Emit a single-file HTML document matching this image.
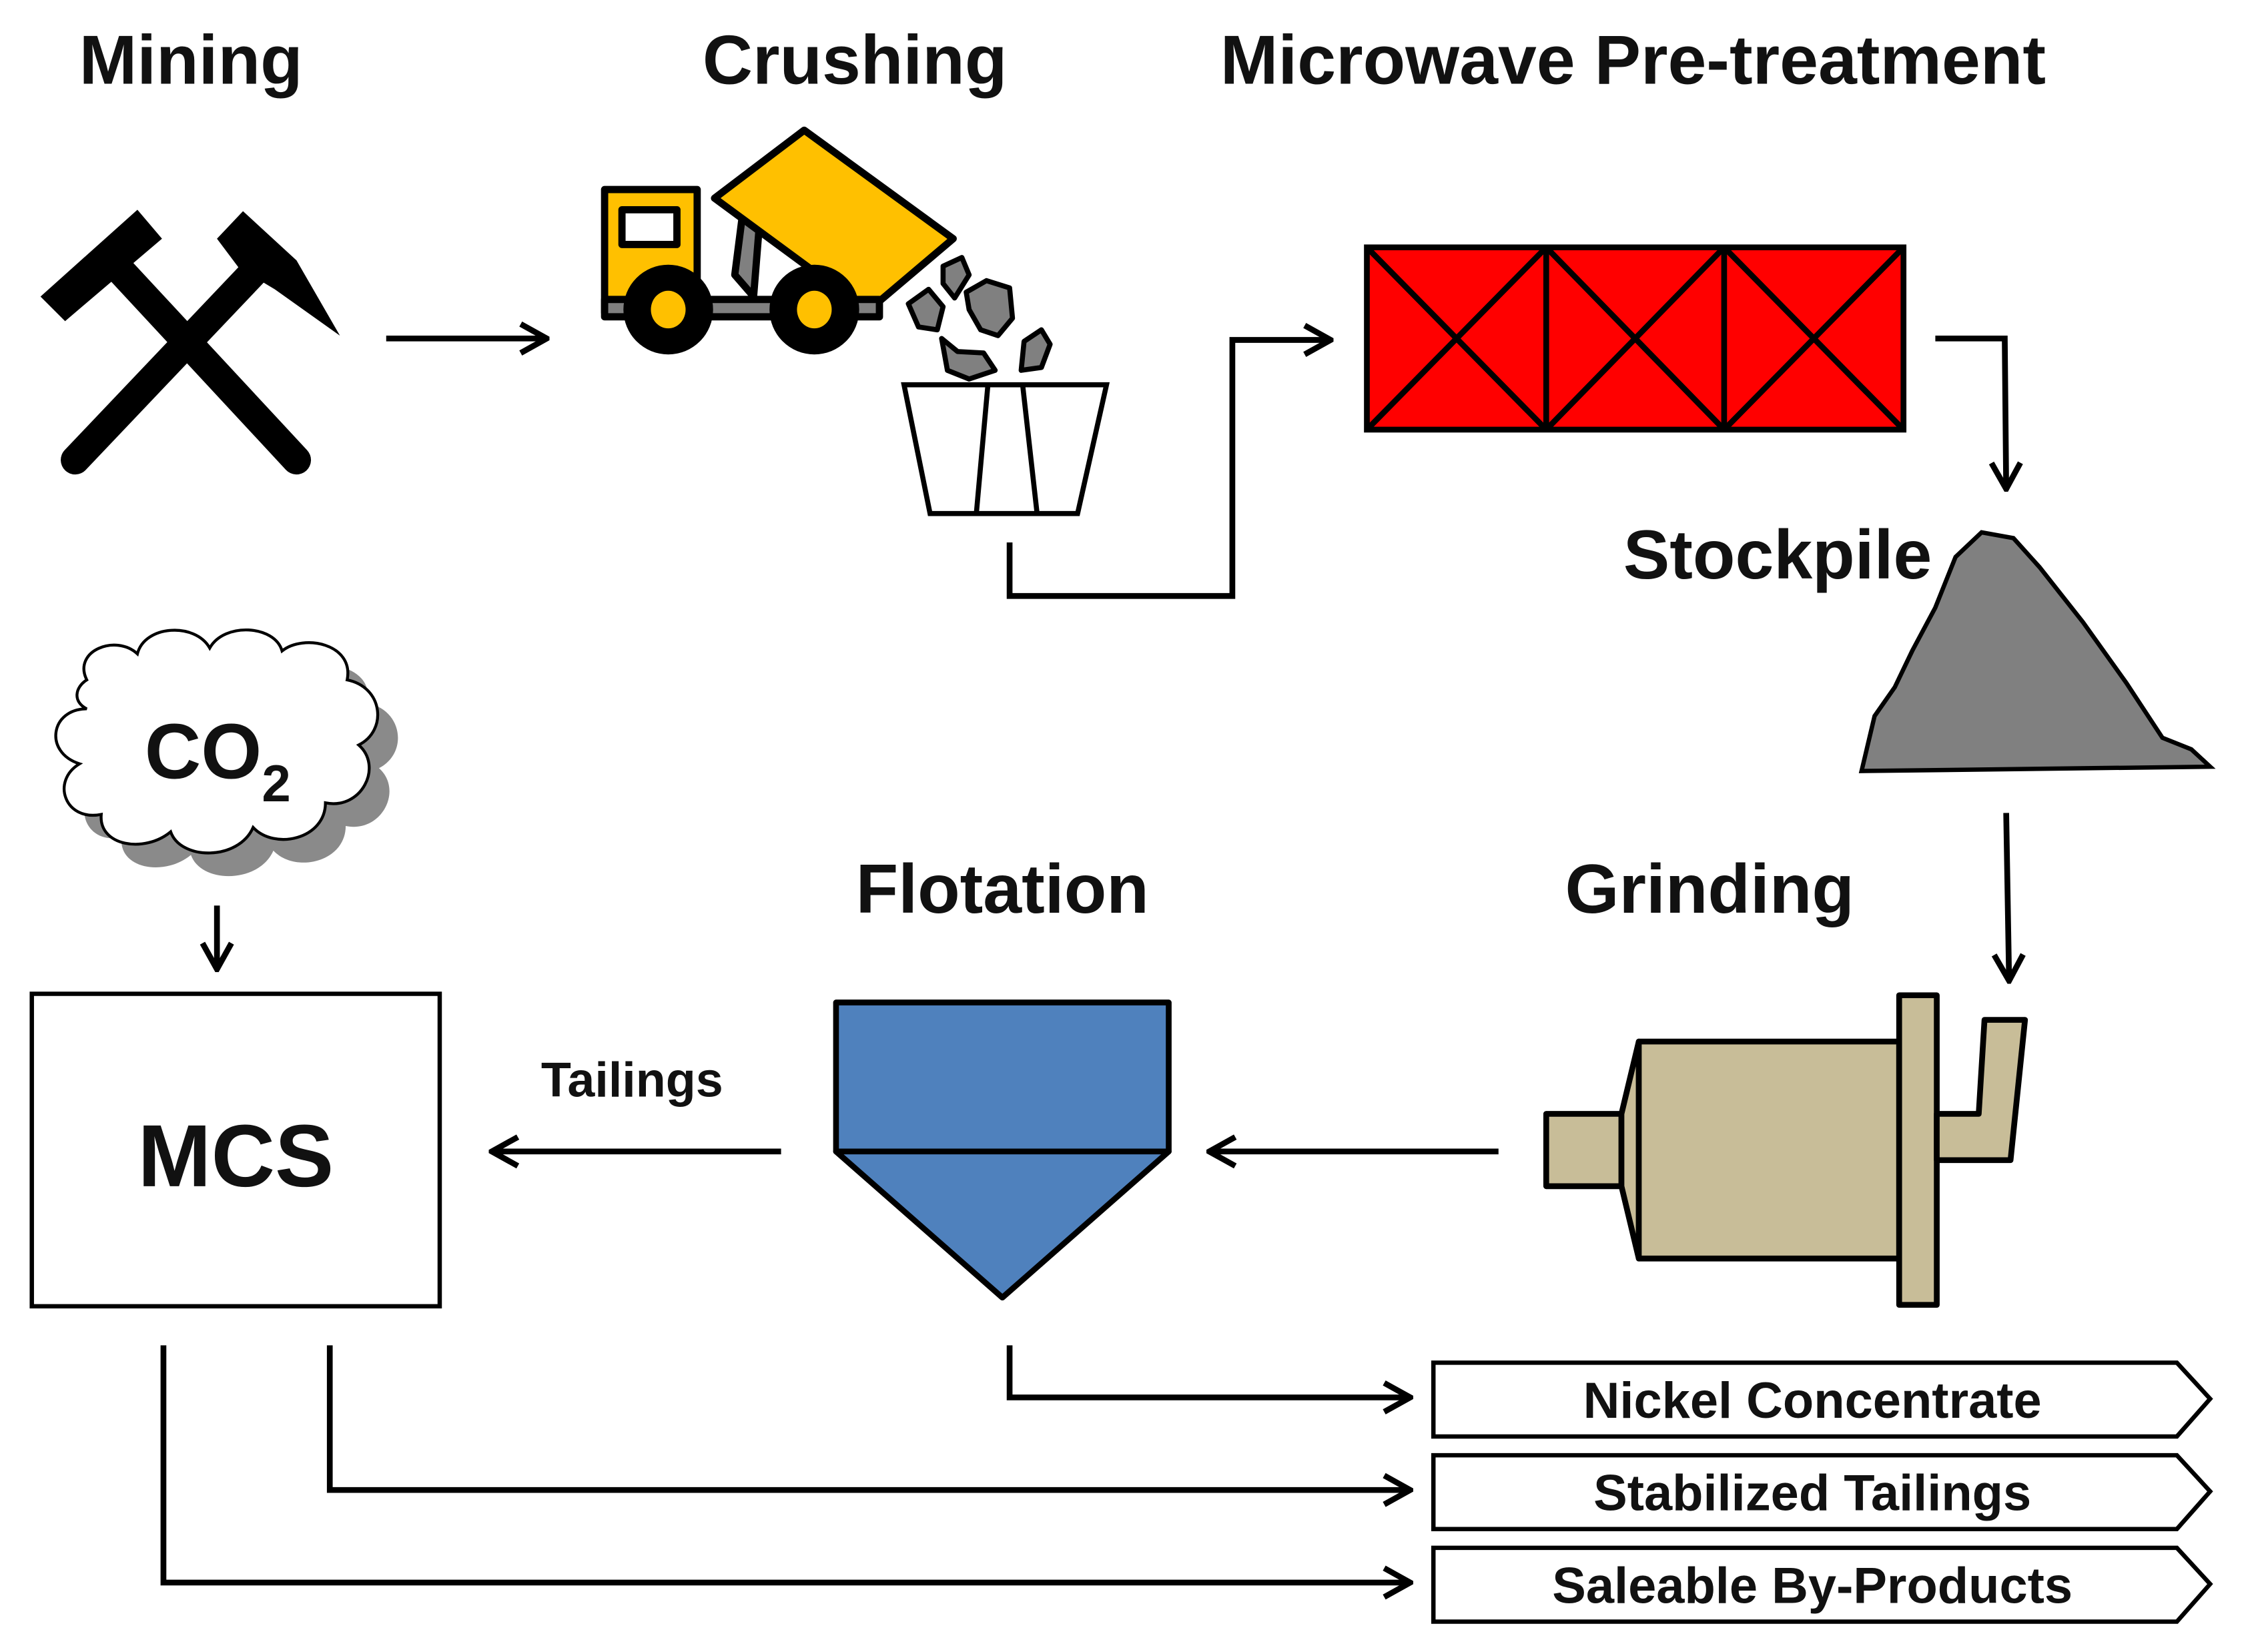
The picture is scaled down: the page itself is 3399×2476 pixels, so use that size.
<!DOCTYPE html>
<html><head><meta charset="utf-8"><style>
html,body{margin:0;padding:0;background:#fff}
svg{display:block}
text{font-family:"Liberation Sans",sans-serif;font-weight:bold;fill:#111}
</style></head><body>
<svg width="3399" height="2476" viewBox="0 0 1568 1142" preserveAspectRatio="none" xmlns="http://www.w3.org/2000/svg">
<defs>
<marker id="ah2" viewBox="0 0 24 24" markerWidth="24" markerHeight="24" refX="22" refY="12" orient="auto" markerUnits="userSpaceOnUse">
<path d="M4,2 L22,12 L4,22" fill="none" stroke="#000" stroke-width="4"/>
</marker>
</defs>
<g font-size="48">
<text x="132" y="58" text-anchor="middle">Mining</text>
<text x="591" y="58" text-anchor="middle">Crushing</text>
<text x="1129" y="58" text-anchor="middle">Microwave Pre-treatment</text>
<text x="1229" y="400" text-anchor="middle">Stockpile</text>
<text x="693" y="631" text-anchor="middle">Flotation</text>
<text x="1182" y="631" text-anchor="middle">Grinding</text>
</g>
<g stroke="#000" stroke-linecap="round">
<line x1="52" y1="318" x2="185" y2="178" stroke-width="20"/>
<line x1="205" y1="318" x2="75" y2="178" stroke-width="20"/>
</g>
<polygon points="28,205 95,145 112,165 45,222" fill="#000"/>
<polygon points="150,165 168,146 205,180 235,232 190,200 165,185" fill="#000"/>
<line x1="267" y1="234" x2="378" y2="234" stroke="#000" stroke-width="4" marker-end="url(#ah2)"/>
<g stroke="#000" stroke-width="5" stroke-linejoin="round">
<rect x="418" y="131" width="64" height="85" fill="#ffc000"/>
<rect x="430" y="145" width="38" height="24" fill="#fff"/>
<polygon points="508,190 514,143 526,143 521,205" fill="#808080"/>
<polygon points="494,137 556,90 659,165 600,215" fill="#ffc000"/>
<rect x="418" y="207" width="190" height="12" fill="#808080"/>
</g>
<circle cx="462" cy="214" r="31" fill="#000"/>
<ellipse cx="462" cy="214" rx="12" ry="13" fill="#ffc000"/>
<circle cx="563" cy="214" r="31" fill="#000"/>
<ellipse cx="563" cy="214" rx="12" ry="13" fill="#ffc000"/>
<g fill="#808080" stroke="#000" stroke-width="3.5" stroke-linejoin="round">
<path d="M652,184 L665,178 L670,190 L660,206 L652,196Z"/>
<path d="M668,202 L682,194 L698,199 L700,220 L690,232 L678,228 L670,214Z"/>
<path d="M628,210 L642,200 L652,212 L648,228 L635,226Z"/>
<path d="M651,234 L662,243 L680,244 L688,256 L670,262 L655,256Z"/>
<path d="M708,236 L720,228 L726,238 L720,254 L706,256Z"/>
</g>
<g fill="none" stroke="#000" stroke-width="3.5">
<polygon points="625,266 765,266 745,355 643,355"/>
<line x1="683" y1="266" x2="675" y2="355"/>
<line x1="707" y1="266" x2="717" y2="355"/>
</g>
<path d="M698,375 L698,412 L852,412 L852,235 L920,235" fill="none" stroke="#000" stroke-width="4" marker-end="url(#ah2)"/>
<g stroke="#000" stroke-width="4">
<rect x="945" y="171" width="371" height="126" fill="#ff0000"/>
<line x1="1069" y1="171" x2="1069" y2="297"/>
<line x1="1192" y1="171" x2="1192" y2="297"/>
<line x1="945" y1="171" x2="1069" y2="297"/><line x1="1069" y1="171" x2="945" y2="297"/>
<line x1="1069" y1="171" x2="1192" y2="297"/><line x1="1192" y1="171" x2="1069" y2="297"/>
<line x1="1192" y1="171" x2="1316" y2="297"/><line x1="1316" y1="171" x2="1192" y2="297"/>
</g>
<path d="M1338,234 L1386,234 L1387,338" fill="none" stroke="#000" stroke-width="4" marker-end="url(#ah2)"/>
<path d="M1287,533 L1296,495 L1310,475 L1322,450 L1338,420 L1352,385 L1370,368 L1392,372 L1410,392 L1440,430 L1470,472 L1495,510 L1515,518 L1528,530 Z" fill="#808080" stroke="#000" stroke-width="3"/>
<line x1="1387" y1="562" x2="1389" y2="678" stroke="#000" stroke-width="4" marker-end="url(#ah2)"/>
<g fill="#c8bd98" stroke="#000" stroke-width="4" stroke-linejoin="round">
<rect x="1069" y="770" width="52" height="50"/>
<polygon points="1121,770 1133,720 1133,870 1121,820"/>
<rect x="1133" y="720" width="180" height="150"/>
<rect x="1313" y="688" width="26" height="214"/>
<polygon points="1339,770 1368,770 1372,705 1400,705 1390,802 1339,802"/>
</g>
<line x1="1036" y1="796" x2="836" y2="796" stroke="#000" stroke-width="4" marker-end="url(#ah2)"/>
<g fill="#4f81bd" stroke="#000" stroke-width="4" stroke-linejoin="round">
<rect x="578" y="693" width="230" height="103"/>
<polygon points="578,796 808,796 693,897"/>
</g>
<line x1="540" y1="796" x2="340" y2="796" stroke="#000" stroke-width="4" marker-end="url(#ah2)"/>
<text x="437" y="758" font-size="34" text-anchor="middle">Tailings</text>
<rect x="22" y="687" width="282" height="216" fill="#fff" stroke="#000" stroke-width="3"/>
<text x="163" y="820" font-size="61" text-anchor="middle">MCS</text>
<g transform="translate(14,16)">
<path d="M60,470 C50,450 80,438 95,452 C100,432 135,430 145,448 C155,430 190,432 195,450 C210,438 245,445 240,470 C265,475 268,505 248,515 C265,530 250,560 225,555 C225,580 190,588 175,572 C165,595 125,595 118,575 C100,590 68,585 70,563 C45,568 35,540 55,528 C30,520 35,490 60,490 C50,485 52,475 60,470Z" fill="#8a8a8a"/>
</g>
<path d="M60,470 C50,450 80,438 95,452 C100,432 135,430 145,448 C155,430 190,432 195,450 C210,438 245,445 240,470 C265,475 268,505 248,515 C265,530 250,560 225,555 C225,580 190,588 175,572 C165,595 125,595 118,575 C100,590 68,585 70,563 C45,568 35,540 55,528 C30,520 35,490 60,490 C50,485 52,475 60,470Z" fill="#fff" stroke="#000" stroke-width="2"/>
<text x="100" y="538" font-size="54">CO<tspan font-size="36" dy="16">2</tspan></text>
<line x1="150" y1="626" x2="150" y2="670" stroke="#000" stroke-width="4" marker-end="url(#ah2)"/>
<g fill="none" stroke="#000" stroke-width="4">
<path d="M698,930 L698,966 L975,966" marker-end="url(#ah2)"/>
<path d="M228,930 L228,1030 L975,1030" marker-end="url(#ah2)"/>
<path d="M113,930 L113,1094 L975,1094" marker-end="url(#ah2)"/>
</g>
<g fill="#fff" stroke="#000" stroke-width="3">
<polygon points="991,942 1505,942 1528,967 1505,993 991,993"/>
<polygon points="991,1006 1505,1006 1528,1031 1505,1057 991,1057"/>
<polygon points="991,1070 1505,1070 1528,1095 1505,1121 991,1121"/>
</g>
<g font-size="35" text-anchor="middle">
<text x="1253" y="980">Nickel Concentrate</text>
<text x="1253" y="1044">Stabilized Tailings</text>
<text x="1253" y="1108">Saleable By-Products</text>
</g>
</svg>
</body></html>
